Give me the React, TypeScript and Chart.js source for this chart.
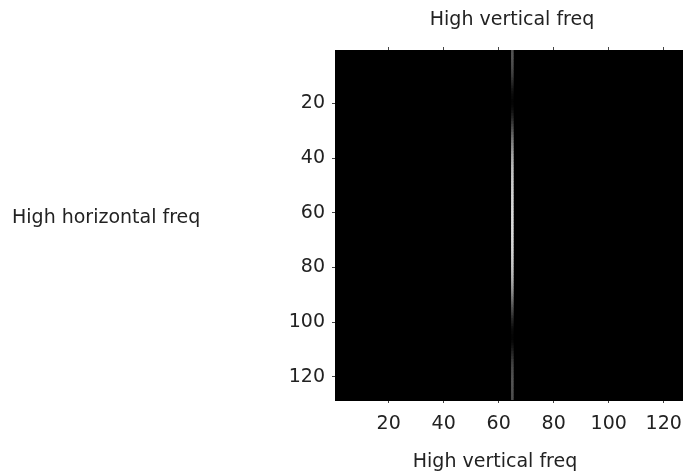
import React, { useEffect, useRef } from 'react';
import { Chart, registerables } from 'chart.js';

Chart.register(...registerables);

const nRows = 128;
const nCols = 128;
const litColumn = 65;
// intensity (0..1) of the lit column, row 1 (top) to row 128 (bottom)
const columnIntensity = [
  0.32, 0.33, 0.33, 0.32, 0.31, 0.30, 0.29, 0.27,
  0.25, 0.23, 0.20, 0.17, 0.14, 0.11, 0.08, 0.06,
  0.04, 0.03, 0.02, 0.02, 0.03, 0.05, 0.08, 0.11,
  0.14, 0.18, 0.22, 0.26, 0.30, 0.34, 0.38, 0.42,
  0.46, 0.50, 0.53, 0.56, 0.59, 0.62, 0.65, 0.67,
  0.69, 0.71, 0.73, 0.75, 0.76, 0.77, 0.78, 0.79,
  0.80, 0.80, 0.81, 0.82, 0.82, 0.83, 0.83, 0.84,
  0.84, 0.85, 0.85, 0.86, 0.86, 0.86, 0.86, 0.86,
  0.86, 0.86, 0.86, 0.86, 0.85, 0.85, 0.84, 0.84,
  0.83, 0.83, 0.82, 0.81, 0.80, 0.79, 0.78, 0.77,
  0.75, 0.73, 0.71, 0.69, 0.67, 0.64, 0.61, 0.58,
  0.55, 0.51, 0.47, 0.43, 0.39, 0.35, 0.31, 0.27,
  0.23, 0.19, 0.15, 0.12, 0.09, 0.06, 0.04, 0.03,
  0.02, 0.02, 0.03, 0.05, 0.08, 0.11, 0.14, 0.17,
  0.20, 0.23, 0.25, 0.27, 0.29, 0.30, 0.31, 0.32,
  0.33, 0.33, 0.33, 0.32, 0.32, 0.31, 0.31, 0.30,
];
const xTickValues = [20, 40, 60, 80, 100, 120];
const yTickValues = [20, 40, 60, 80, 100, 120];
const topTitle = 'High vertical freq';
const xLabel = 'High vertical freq';
const yLabel = 'High horizontal freq';

const FONT_FAMILY = 'DejaVu Sans';
const FONT_SIZE = 19;
const TEXT_COLOR = '#222';

export default function App() {
  const ref = useRef<HTMLCanvasElement>(null);

  useEffect(() => {
    if (!ref.current) return;

    const matrix: number[][] = [];
    for (let r = 0; r < nRows; r++) {
      const row: number[] = [];
      for (let c = 1; c <= nCols; c++) row.push(c === litColumn ? columnIntensity[r] : 0);
      matrix.push(row);
    }

    const heatPlugin = {
      id: 'heat',
      beforeDatasetsDraw(chart: any) {
        const { ctx, chartArea: a, scales } = chart;
        const xs = scales.x;
        const ys = scales.y;
        ctx.save();
        ctx.beginPath();
        ctx.rect(a.left, a.top, a.right - a.left, a.bottom - a.top);
        ctx.clip();
        ctx.fillStyle = '#000';
        ctx.fillRect(a.left, a.top, a.right - a.left, a.bottom - a.top);
        for (let r = 0; r < nRows; r++) {
          const y1 = ys.getPixelForValue(r + 0.5);
          const y2 = ys.getPixelForValue(r + 1.5);
          const top = Math.min(y1, y2);
          const h = Math.abs(y2 - y1);
          for (let c = 0; c < nCols; c++) {
            const v = matrix[r][c];
            const g = Math.round(Math.max(0, Math.min(1, v)) * 255);
            const x1 = xs.getPixelForValue(c + 0.5);
            const x2 = xs.getPixelForValue(c + 1.5);
            ctx.fillStyle = `rgb(${g},${g},${g})`;
            ctx.fillRect(x1, top, x2 - x1, h + 0.8);
          }
        }
        ctx.restore();
      },
    };

    const textPlugin = {
      id: 'texts',
      afterDraw(chart: any) {
        const { ctx } = chart;
        ctx.save();
        ctx.font = `${FONT_SIZE}px "${FONT_FAMILY}"`;
        ctx.fillStyle = TEXT_COLOR;
        ctx.textBaseline = 'middle';
        ctx.textAlign = 'center';
        ctx.fillText(topTitle, 512, 20);
        ctx.fillText(xLabel, 495, 462);
        ctx.textAlign = 'left';
        ctx.fillText(yLabel, 12, 218);
        ctx.restore();
      },
    };

    const setTicks = (vals: number[]) => (scale: any) => {
      scale.ticks = vals.map((v) => ({ value: v }));
    };

    const tickFont = { family: FONT_FAMILY, size: FONT_SIZE };
    const gridOpts = {
      drawOnChartArea: false,
      drawTicks: true,
      tickLength: 3,
      color: '#444',
      lineWidth: 1,
    };
    const fitX = (h: number) => (s: any) => {
      s.height = h;
      s.paddingLeft = 0;
      s.paddingRight = 0;
    };

    const chart = new Chart(ref.current, {
      type: 'scatter',
      data: { datasets: [{ data: [], xAxisID: 'x', yAxisID: 'y' }] },
      options: {
        animation: false,
        responsive: true,
        maintainAspectRatio: false,
        layout: { padding: 0 },
        plugins: { legend: { display: false }, tooltip: { enabled: false }, title: { display: false } },
        scales: {
          x: {
            type: 'linear',
            position: 'bottom',
            min: 0.5,
            max: 127,
            afterBuildTicks: setTicks(xTickValues),
            afterFit: fitX(75),
            ticks: { font: tickFont, color: TEXT_COLOR, padding: 10, maxRotation: 0, autoSkip: false },
            grid: gridOpts,
            border: { display: true, color: '#000' },
          },
          x2: {
            type: 'linear',
            position: 'top',
            min: 0.5,
            max: 127,
            afterBuildTicks: setTicks(xTickValues),
            afterFit: fitX(50),
            ticks: { display: false },
            grid: gridOpts,
            border: { display: true, color: '#000' },
          },
          y: {
            type: 'linear',
            position: 'left',
            reverse: true,
            min: 0.5,
            max: 128.5,
            afterBuildTicks: setTicks(yTickValues),
            afterFit: (s: any) => { s.width = 335; s.paddingTop = 0; s.paddingBottom = 0; },
            ticks: { font: tickFont, color: TEXT_COLOR, padding: 7, autoSkip: false },
            grid: gridOpts,
            border: { display: true, color: '#000' },
          },
        },
      },
      plugins: [heatPlugin, textPlugin],
    });
    return () => chart.destroy();
  }, []);

  return (
    <div style={{ position: 'fixed', left: 0, top: 0, width: 683, height: 475, background: '#fff' }}>
      <canvas ref={ref} />
    </div>
  );
}
